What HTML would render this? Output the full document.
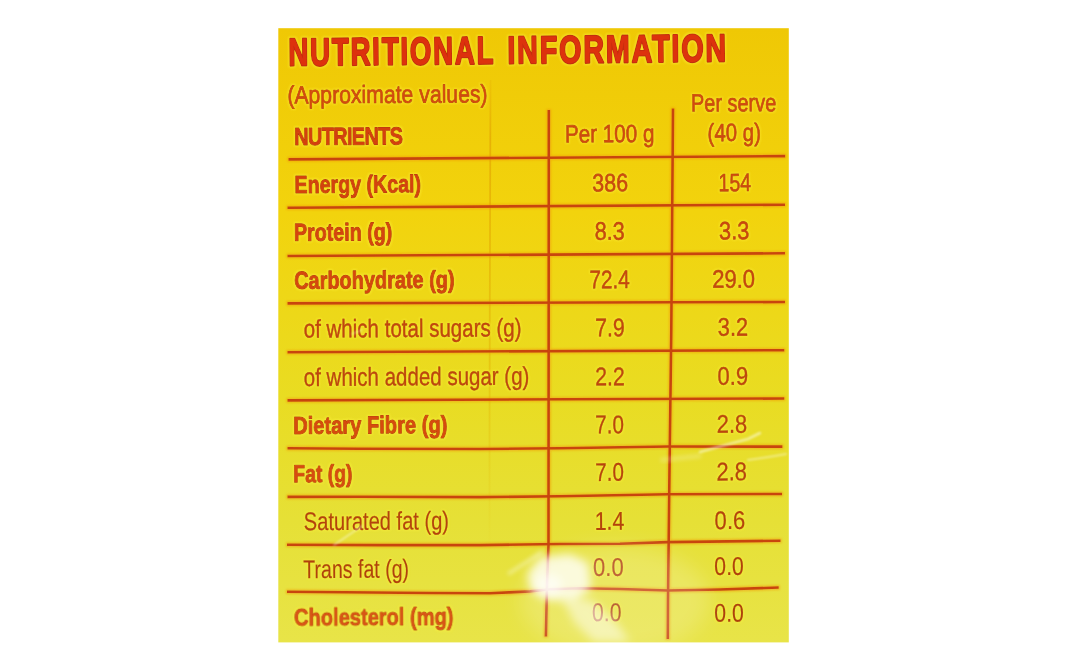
<!DOCTYPE html>
<html><head><meta charset="utf-8"><title>Nutritional Information</title>
<style>
html,body{margin:0;padding:0;background:#fff;width:1068px;height:671px;overflow:hidden}
svg{display:block}
text{font-family:"Liberation Sans", Arial, sans-serif}
</style></head><body>
<svg width="1068" height="671" viewBox="0 0 1068 671">
<defs>
<linearGradient id="bg" x1="0" y1="0" x2="0" y2="1">
<stop offset="0" stop-color="#efc805"/>
<stop offset="0.3" stop-color="#f2d30d"/>
<stop offset="0.6" stop-color="#e9dc22"/>
<stop offset="0.8" stop-color="#e6e036"/>
<stop offset="1" stop-color="#e8e448"/>
</linearGradient>
<filter id="halo" x="-5%" y="-20%" width="110%" height="140%">
<feMorphology operator="dilate" radius="0.9" in="SourceAlpha" result="d"/>
<feGaussianBlur in="d" stdDeviation="0.8" result="b"/>
<feFlood flood-color="#fff43c" flood-opacity="0.5"/>
<feComposite in2="b" operator="in" result="h"/>
<feMerge><feMergeNode in="h"/><feMergeNode in="SourceGraphic"/></feMerge>
</filter>
<filter id="halo2" x="-5%" y="-20%" width="110%" height="140%">
<feMorphology operator="dilate" radius="1.2" in="SourceAlpha" result="d2"/>
<feGaussianBlur in="d2" stdDeviation="0.9" result="b2"/>
<feFlood flood-color="#fff23a" flood-opacity="0.45"/>
<feComposite in2="b2" operator="in" result="ring"/>
<feMorphology operator="dilate" radius="0.4" in="SourceAlpha" result="d1"/>
<feGaussianBlur in="d1" stdDeviation="0.5" result="b1"/>
<feFlood flood-color="#e8901a" flood-opacity="0.5"/>
<feComposite in2="b1" operator="in" result="fr"/>
<feMerge><feMergeNode in="ring"/><feMergeNode in="fr"/><feMergeNode in="SourceGraphic"/></feMerge>
</filter>
<filter id="lhalo" x="-5%" y="-5%" width="110%" height="110%">
<feMorphology operator="dilate" radius="0.8" in="SourceAlpha" result="d"/>
<feGaussianBlur in="d" stdDeviation="0.8" result="b"/>
<feFlood flood-color="#f09810" flood-opacity="0.6"/>
<feComposite in2="b" operator="in" result="h"/>
<feMerge><feMergeNode in="h"/><feMergeNode in="SourceGraphic"/></feMerge>
</filter>
<linearGradient id="creaseG" gradientUnits="userSpaceOnUse" x1="0" y1="80" x2="0" y2="560">
<stop offset="0" stop-color="#e09a00" stop-opacity="0.15"/>
<stop offset="0.12" stop-color="#e09a00" stop-opacity="0.55"/>
<stop offset="0.6" stop-color="#e0a800" stop-opacity="0.4"/>
<stop offset="1" stop-color="#e0b800" stop-opacity="0"/>
</linearGradient>
<filter id="bl1" x="-50%" y="-50%" width="200%" height="200%"><feGaussianBlur stdDeviation="1.1"/></filter>
<filter id="bl5" x="-100%" y="-100%" width="300%" height="300%"><feGaussianBlur stdDeviation="5"/></filter>
<filter id="bl3" x="-100%" y="-100%" width="300%" height="300%"><feGaussianBlur stdDeviation="2"/></filter>
<filter id="bl10" x="-100%" y="-100%" width="300%" height="300%"><feGaussianBlur stdDeviation="10"/></filter>
</defs>
<rect x="278.3" y="28.2" width="510.5" height="614.2" fill="url(#bg)"/>
<path d="M490.5,80 L489.8,300 L489.5,450 L489.5,560" stroke="url(#creaseG)" stroke-width="1.8" fill="none"/>
<g stroke="#c84408" stroke-width="2.6" stroke-linecap="butt" filter="url(#lhalo)">
<path d="M288.5,159.4 L785.2,156.1" fill="none"/>
<path d="M287.5,207.7 L785,204.7" fill="none"/>
<path d="M287.5,256 L785,253.3" fill="none"/>
<path d="M287.5,303.4 L785,302" fill="none"/>
<path d="M287.5,352.2 L784.3,350.2" fill="none"/>
<path d="M287.5,400.4 L784.3,398.5" fill="none"/>
<path d="M287.5,448.3 L360,448.7 L480,449 L560,448.3 L668,446.5 L782.4,446.6" fill="none"/>
<path d="M287.5,496.9 L360,496.8 L480,497.1 L560,496.2 L668,494.3 L782,494" fill="none"/>
<path d="M287,544.7 L380,545.1 L480,545.1 L560,544 L620,543.7 L668,542.1 L780.5,540.7" fill="none"/>
<path d="M287,591.7 L430,593 L490,593.3 L530,591.4 L550,589.2 L580,588.2 L620,589 L668,590.5 L720,589.5 L778.7,587.5" fill="none"/>
<path d="M548.8,110 L548.5,545 L547,585 L545.9,636.5" fill="none"/>
<path d="M673,108.4 L671.3,330 L669.5,470 L668,600 L667.8,639" fill="none"/>
</g>
<g>
<g filter="url(#halo)">
<text transform="translate(288.47,65.60) rotate(-0.57) scale(0.7121,1)" font-size="38.7" font-weight="700" fill="#dd320a" stroke="#c42e08" stroke-width="2.3" stroke-linejoin="round" paint-order="stroke" letter-spacing="2.6">NUTRITIONAL</text>
<text transform="translate(507.47,63.45) rotate(-0.57) scale(0.7390,1)" font-size="38.7" font-weight="700" fill="#dd320a" stroke="#c42e08" stroke-width="2.3" stroke-linejoin="round" paint-order="stroke" letter-spacing="2.6">INFORMATION</text>
<text transform="translate(294.28,145.00) rotate(-0.35) scale(0.8095,1)" font-size="24.6" font-weight="700" fill="#d4400e" stroke="#b2360c" stroke-width="1.0" stroke-linejoin="round" paint-order="stroke" letter-spacing="-0.8">NUTRIENTS</text>
<text transform="translate(294.61,193.00) rotate(-0.35) scale(0.7978,1)" font-size="24.6" font-weight="700" fill="#d4420e" stroke="#b2370c" stroke-width="1.0" stroke-linejoin="round" paint-order="stroke">Energy (Kcal)</text>
<text transform="translate(293.89,240.80) rotate(-0.35) scale(0.8013,1)" font-size="24.6" font-weight="700" fill="#d5440f" stroke="#b3390d" stroke-width="1.0" stroke-linejoin="round" paint-order="stroke">Protein (g)</text>
<text transform="translate(294.18,288.80) rotate(-0.35) scale(0.8103,1)" font-size="24.6" font-weight="700" fill="#d5460f" stroke="#b33b0d" stroke-width="1.0" stroke-linejoin="round" paint-order="stroke">Carbohydrate (g)</text>
<text transform="translate(293.16,433.90) rotate(-0.35) scale(0.8184,1)" font-size="24.6" font-weight="700" fill="#d64c10" stroke="#b4400d" stroke-width="1.0" stroke-linejoin="round" paint-order="stroke">Dietary Fibre (g)</text>
<text transform="translate(293.28,482.20) rotate(-0.35) scale(0.7892,1)" font-size="24.6" font-weight="700" fill="#d74e11" stroke="#b5420e" stroke-width="1.0" stroke-linejoin="round" paint-order="stroke">Fat (g)</text>
<text transform="translate(294.16,625.80) rotate(-0.35) scale(0.8160,1)" font-size="24.6" font-weight="700" fill="#d85412" stroke="#b5470f" stroke-width="1.0" stroke-linejoin="round" paint-order="stroke">Cholesterol (mg)</text>
</g>
<g filter="url(#halo2)">
<text transform="translate(287.40,103.50) rotate(-0.35) scale(0.8476,1)" font-size="25.01" font-weight="400" fill="#d44a10" stroke="#ae3d0d" stroke-width="0.7" stroke-linejoin="round" paint-order="stroke">(Approximate values)</text>
<text transform="translate(691.02,111.60) rotate(-0.35) scale(0.7961,1)" font-size="25.02" font-weight="400" fill="#d34a10" stroke="#ad3d0d" stroke-width="0.69" stroke-linejoin="round" paint-order="stroke">Per serve</text>
<text transform="translate(707.62,141.20) rotate(-0.35) scale(0.8148,1)" font-size="25.06" font-weight="400" fill="#d14910" stroke="#ab3c0d" stroke-width="0.66" stroke-linejoin="round" paint-order="stroke">(40 g)</text>
<text transform="translate(564.90,142.50) rotate(-0.35) scale(0.8249,1)" font-size="25.07" font-weight="400" fill="#d14910" stroke="#ab3c0d" stroke-width="0.66" stroke-linejoin="round" paint-order="stroke">Per 100 g</text>
<text transform="translate(592.37,191.50) rotate(-0.35) scale(0.8521,1)" font-size="25.14" font-weight="400" fill="#cd4810" stroke="#a83b0d" stroke-width="0.6" stroke-linejoin="round" paint-order="stroke">386</text>
<text transform="translate(718.57,191.20) rotate(-0.35) scale(0.7780,1)" font-size="25.14" font-weight="400" fill="#cd4810" stroke="#a83b0d" stroke-width="0.6" stroke-linejoin="round" paint-order="stroke">154</text>
<text transform="translate(594.64,239.80) rotate(-0.35) scale(0.8581,1)" font-size="25.21" font-weight="400" fill="#ca470f" stroke="#a63a0c" stroke-width="0.55" stroke-linejoin="round" paint-order="stroke">8.3</text>
<text transform="translate(719.00,239.40) rotate(-0.35) scale(0.8658,1)" font-size="25.21" font-weight="400" fill="#ca470f" stroke="#a63a0c" stroke-width="0.55" stroke-linejoin="round" paint-order="stroke">3.3</text>
<text transform="translate(589.48,288.30) rotate(-0.35) scale(0.8214,1)" font-size="25.29" font-weight="400" fill="#c6460f" stroke="#a2390c" stroke-width="0.5" stroke-linejoin="round" paint-order="stroke">72.4</text>
<text transform="translate(712.13,287.80) rotate(-0.35) scale(0.8748,1)" font-size="25.29" font-weight="400" fill="#c6460f" stroke="#a2390c" stroke-width="0.5" stroke-linejoin="round" paint-order="stroke">29.0</text>
<text transform="translate(303.74,337.60) rotate(-0.35) scale(0.8094,1)" font-size="25.37" font-weight="400" fill="#c3450f" stroke="#a0390c" stroke-width="0.45" stroke-linejoin="round" paint-order="stroke">of which total sugars (g)</text>
<text transform="translate(595.28,336.30) rotate(-0.35) scale(0.8387,1)" font-size="25.36" font-weight="400" fill="#c3450f" stroke="#a0390c" stroke-width="0.45" stroke-linejoin="round" paint-order="stroke">7.9</text>
<text transform="translate(717.82,335.80) rotate(-0.35) scale(0.8611,1)" font-size="25.36" font-weight="400" fill="#c3450f" stroke="#a0390c" stroke-width="0.45" stroke-linejoin="round" paint-order="stroke">3.2</text>
<text transform="translate(303.83,386.00) rotate(-0.35) scale(0.8061,1)" font-size="25.44" font-weight="400" fill="#bf440f" stroke="#9d380c" stroke-width="0.4" stroke-linejoin="round" paint-order="stroke">of which added sugar (g)</text>
<text transform="translate(595.24,385.30) rotate(-0.35) scale(0.8371,1)" font-size="25.44" font-weight="400" fill="#bf450f" stroke="#9d390c" stroke-width="0.4" stroke-linejoin="round" paint-order="stroke">2.2</text>
<text transform="translate(717.58,384.80) rotate(-0.35) scale(0.8649,1)" font-size="25.44" font-weight="400" fill="#bf450f" stroke="#9d390c" stroke-width="0.4" stroke-linejoin="round" paint-order="stroke">0.9</text>
<text transform="translate(595.21,433.30) rotate(-0.35) scale(0.8116,1)" font-size="25.51" font-weight="400" fill="#bc440f" stroke="#9a380c" stroke-width="0.35" stroke-linejoin="round" paint-order="stroke">7.0</text>
<text transform="translate(716.80,432.80) rotate(-0.35) scale(0.8595,1)" font-size="25.51" font-weight="400" fill="#bc440f" stroke="#9a380c" stroke-width="0.35" stroke-linejoin="round" paint-order="stroke">2.8</text>
<text transform="translate(595.24,480.90) rotate(-0.35) scale(0.8094,1)" font-size="25.59" font-weight="400" fill="#b8430f" stroke="#97370c" stroke-width="0.3" stroke-linejoin="round" paint-order="stroke">7.0</text>
<text transform="translate(716.50,480.40) rotate(-0.35) scale(0.8575,1)" font-size="25.58" font-weight="400" fill="#b8430f" stroke="#97370c" stroke-width="0.3" stroke-linejoin="round" paint-order="stroke">2.8</text>
<text transform="translate(303.87,530.20) rotate(-0.35) scale(0.7834,1)" font-size="25.66" font-weight="400" fill="#b5420e" stroke="#94360b" stroke-width="0.24" stroke-linejoin="round" paint-order="stroke">Saturated fat (g)</text>
<text transform="translate(594.64,529.90) rotate(-0.35) scale(0.8379,1)" font-size="25.66" font-weight="400" fill="#b5420e" stroke="#94360b" stroke-width="0.25" stroke-linejoin="round" paint-order="stroke">1.4</text>
<text transform="translate(714.60,529.20) rotate(-0.35) scale(0.8608,1)" font-size="25.66" font-weight="400" fill="#b5420e" stroke="#94360b" stroke-width="0.25" stroke-linejoin="round" paint-order="stroke">0.6</text>
<text transform="translate(303.27,578.20) rotate(-0.35) scale(0.7604,1)" font-size="25.74" font-weight="400" fill="#b1410e" stroke="#91350b" stroke-width="0.19" stroke-linejoin="round" paint-order="stroke">Trans fat (g)</text>
<text transform="translate(593.04,576.00) rotate(-0.35) scale(0.8615,1)" font-size="25.73" font-weight="400" fill="#b1410e" stroke="#91350b" stroke-width="0.2" stroke-linejoin="round" paint-order="stroke">0.0</text>
<text transform="translate(714.34,575.00) rotate(-0.35) scale(0.8252,1)" font-size="25.73" font-weight="400" fill="#b1410e" stroke="#91350b" stroke-width="0.2" stroke-linejoin="round" paint-order="stroke">0.0</text>
<text transform="translate(591.90,621.30) rotate(-0.35) scale(0.8273,1)" font-size="25.8" font-weight="400" fill="#ae400e" stroke="#8f340b" stroke-width="0.15" stroke-linejoin="round" paint-order="stroke">0.0</text>
<text transform="translate(714.29,621.80) rotate(-0.35) scale(0.8283,1)" font-size="25.8" font-weight="400" fill="#ae400e" stroke="#8f340b" stroke-width="0.15" stroke-linejoin="round" paint-order="stroke">0.0</text>
</g>
</g>
<g fill="#fff">
<ellipse cx="615" cy="600" rx="95" ry="55" opacity="0.18" filter="url(#bl10)"/>
<path d="M562,598 L592,600 L616,622 L630,642 L594,642 L574,622 Z" opacity="0.5" filter="url(#bl5)"/>
<path d="M527,574 L540,557 L570,554 L588,563 L591,588 L576,601 L548,600 L531,591 Z" opacity="0.78" filter="url(#bl5)"/>
<ellipse cx="549" cy="585" rx="13" ry="11" opacity="0.6" filter="url(#bl5)"/>
<path d="M508,574 L542,552" stroke="#fff" stroke-width="3" opacity="0.45" filter="url(#bl3)"/>
</g>
<g fill="none" stroke="#fff" stroke-linecap="round">
<path d="M700,452 Q725,445 748,439 L760,433" stroke-width="2.6" opacity="0.5" filter="url(#bl1)"/>
<path d="M748,460 Q770,457 786,454" stroke-width="2" opacity="0.4" filter="url(#bl1)"/>
<path d="M662,460 L700,456" stroke-width="4" opacity="0.25" filter="url(#bl3)"/>
<path d="M334,545 L362,526" stroke-width="1.6" opacity="0.45" filter="url(#bl1)"/>
<path d="M352,334 L362,330" stroke-width="1.6" opacity="0.4" filter="url(#bl1)"/>
</g>
</svg>
</body></html>
